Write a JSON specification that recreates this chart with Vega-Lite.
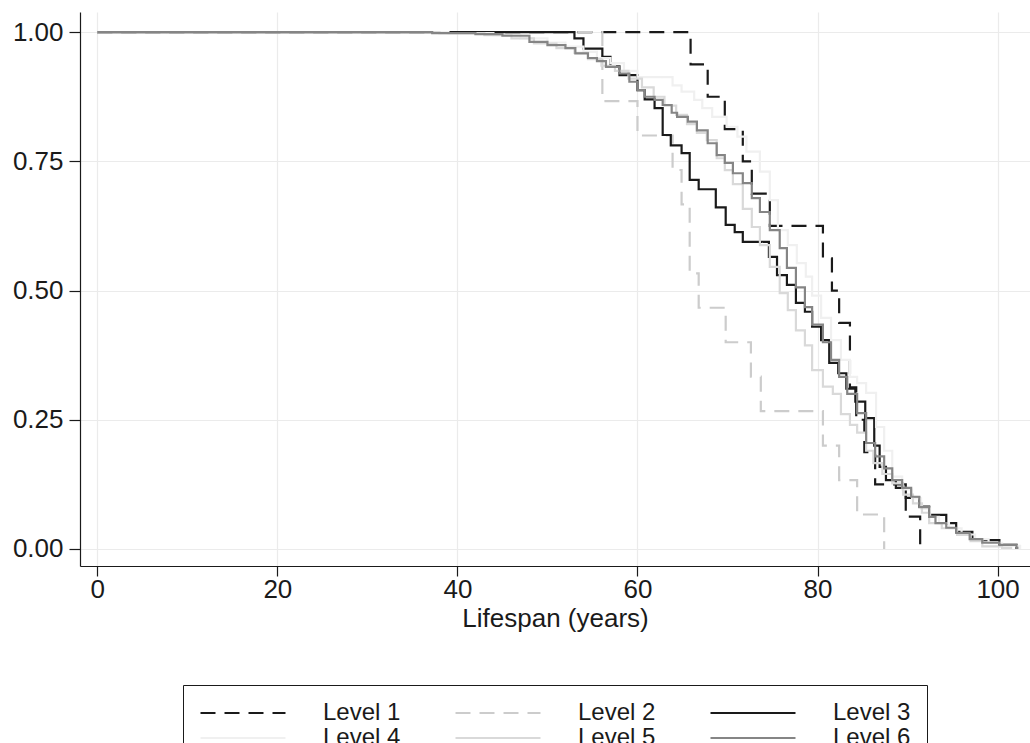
{
  "$schema": "https://vega.github.io/schema/vega-lite/v6.json",
  "autosize": "none",
  "padding": {"left": 80, "top": 12, "right": 0, "bottom": 177},
  "width": 950,
  "height": 554,
  "config": {
    "font": "Liberation Sans",
    "view": {"stroke": null},
    "axis": {
      "labelFontSize": 26, "labelColor": "#1a1a1a", "titleFontSize": 26, "titleFontWeight": "normal", "titleColor": "#1a1a1a",
      "domainColor": "#1a1a1a", "tickColor": "#1a1a1a", "gridColor": "#ebebeb", "gridWidth": 1.2, "domainWidth": 1.2, "tickWidth": 1.2
    }
  },
  "data": {"values": [
    {"level":"Level 1","t":0,"s":1},{"level":"Level 1","t":65.9,"s":0.9375},{"level":"Level 1","t":67.8,"s":0.875},{"level":"Level 1","t":69.7,"s":0.8125},{"level":"Level 1","t":71.7,"s":0.75},{"level":"Level 1","t":72.7,"s":0.6875},{"level":"Level 1","t":74.7,"s":0.625},{"level":"Level 1","t":80.6,"s":0.5625},{"level":"Level 1","t":81.6,"s":0.5},{"level":"Level 1","t":82.4,"s":0.4375},{"level":"Level 1","t":83.6,"s":0.3125},{"level":"Level 1","t":84.3,"s":0.25},{"level":"Level 1","t":85.2,"s":0.1875},{"level":"Level 1","t":86.4,"s":0.125},{"level":"Level 1","t":89.8,"s":0.0625},{"level":"Level 1","t":91.4,"s":0},
    {"level":"Level 2","t":0,"s":1},{"level":"Level 2","t":56.1,"s":0.8667},{"level":"Level 2","t":60.0,"s":0.8},{"level":"Level 2","t":63.9,"s":0.7333},{"level":"Level 2","t":64.9,"s":0.6667},{"level":"Level 2","t":65.8,"s":0.5333},{"level":"Level 2","t":66.8,"s":0.4667},{"level":"Level 2","t":69.8,"s":0.4},{"level":"Level 2","t":72.6,"s":0.3333},{"level":"Level 2","t":73.7,"s":0.2667},{"level":"Level 2","t":80.6,"s":0.2},{"level":"Level 2","t":82.4,"s":0.1333},{"level":"Level 2","t":84.4,"s":0.0667},{"level":"Level 2","t":87.4,"s":0},
    {"level":"Level 3","t":0,"s":1},{"level":"Level 3","t":53.0,"s":0.988},{"level":"Level 3","t":54.0,"s":0.968},{"level":"Level 3","t":56.1,"s":0.952},{"level":"Level 3","t":57.0,"s":0.934},{"level":"Level 3","t":58.0,"s":0.917},{"level":"Level 3","t":60.0,"s":0.888},{"level":"Level 3","t":60.8,"s":0.870},{"level":"Level 3","t":61.9,"s":0.853},{"level":"Level 3","t":62.8,"s":0.801},{"level":"Level 3","t":63.7,"s":0.781},{"level":"Level 3","t":64.9,"s":0.766},{"level":"Level 3","t":65.8,"s":0.714},{"level":"Level 3","t":66.8,"s":0.696},{"level":"Level 3","t":68.7,"s":0.661},{"level":"Level 3","t":69.8,"s":0.627},{"level":"Level 3","t":70.8,"s":0.613},{"level":"Level 3","t":71.7,"s":0.594},{"level":"Level 3","t":74.6,"s":0.565},{"level":"Level 3","t":75.5,"s":0.530},{"level":"Level 3","t":76.6,"s":0.511},{"level":"Level 3","t":77.6,"s":0.476},{"level":"Level 3","t":78.6,"s":0.459},{"level":"Level 3","t":79.4,"s":0.430},{"level":"Level 3","t":80.4,"s":0.404},{"level":"Level 3","t":81.3,"s":0.360},{"level":"Level 3","t":82.3,"s":0.340},{"level":"Level 3","t":83.2,"s":0.310},{"level":"Level 3","t":84.2,"s":0.285},{"level":"Level 3","t":85.3,"s":0.253},{"level":"Level 3","t":86.3,"s":0.200},{"level":"Level 3","t":86.9,"s":0.159},{"level":"Level 3","t":87.6,"s":0.133},{"level":"Level 3","t":88.7,"s":0.118},{"level":"Level 3","t":89.8,"s":0.099},{"level":"Level 3","t":91.3,"s":0.082},{"level":"Level 3","t":92.4,"s":0.066},{"level":"Level 3","t":94.3,"s":0.050},{"level":"Level 3","t":95.4,"s":0.033},{"level":"Level 3","t":97.2,"s":0.017},{"level":"Level 3","t":100.2,"s":0.008},{"level":"Level 3","t":102.1,"s":0},
    {"level":"Level 4","t":0,"s":1},{"level":"Level 4","t":39,"s":0.998},{"level":"Level 4","t":44,"s":0.994},{"level":"Level 4","t":47,"s":0.988},{"level":"Level 4","t":50,"s":0.980},{"level":"Level 4","t":52,"s":0.972},{"level":"Level 4","t":54,"s":0.962},{"level":"Level 4","t":55.5,"s":0.950},{"level":"Level 4","t":57,"s":0.940},{"level":"Level 4","t":58.5,"s":0.925},{"level":"Level 4","t":60,"s":0.913},{"level":"Level 4","t":63.9,"s":0.897},{"level":"Level 4","t":64.9,"s":0.885},{"level":"Level 4","t":66.3,"s":0.869},{"level":"Level 4","t":67.2,"s":0.853},{"level":"Level 4","t":68.3,"s":0.836},{"level":"Level 4","t":69.9,"s":0.817},{"level":"Level 4","t":71.1,"s":0.798},{"level":"Level 4","t":72.1,"s":0.769},{"level":"Level 4","t":73.6,"s":0.730},{"level":"Level 4","t":74.7,"s":0.675},{"level":"Level 4","t":75.6,"s":0.617},{"level":"Level 4","t":76.7,"s":0.588},{"level":"Level 4","t":77.7,"s":0.553},{"level":"Level 4","t":78.7,"s":0.527},{"level":"Level 4","t":79.4,"s":0.490},{"level":"Level 4","t":80.4,"s":0.447},{"level":"Level 4","t":81.5,"s":0.404},{"level":"Level 4","t":82.6,"s":0.366},{"level":"Level 4","t":83.6,"s":0.333},{"level":"Level 4","t":84.4,"s":0.321},{"level":"Level 4","t":85.4,"s":0.302},{"level":"Level 4","t":86.5,"s":0.236},{"level":"Level 4","t":87.4,"s":0.190},{"level":"Level 4","t":88.3,"s":0.140},{"level":"Level 4","t":89.4,"s":0.115},{"level":"Level 4","t":90.5,"s":0.098},{"level":"Level 4","t":91.5,"s":0.078},{"level":"Level 4","t":92.5,"s":0.062},{"level":"Level 4","t":93.5,"s":0.050},{"level":"Level 4","t":94.6,"s":0.040},{"level":"Level 4","t":96.0,"s":0.028},{"level":"Level 4","t":97.5,"s":0.019},{"level":"Level 4","t":99.0,"s":0.012},{"level":"Level 4","t":100.5,"s":0.006},{"level":"Level 4","t":102.5,"s":0},
    {"level":"Level 5","t":0,"s":1},{"level":"Level 5","t":38,"s":0.998},{"level":"Level 5","t":43,"s":0.994},{"level":"Level 5","t":46,"s":0.988},{"level":"Level 5","t":48.5,"s":0.978},{"level":"Level 5","t":51,"s":0.969},{"level":"Level 5","t":53,"s":0.960},{"level":"Level 5","t":54.5,"s":0.948},{"level":"Level 5","t":56,"s":0.935},{"level":"Level 5","t":57.5,"s":0.925},{"level":"Level 5","t":59,"s":0.910},{"level":"Level 5","t":60.5,"s":0.893},{"level":"Level 5","t":61.8,"s":0.875},{"level":"Level 5","t":63,"s":0.858},{"level":"Level 5","t":64.3,"s":0.840},{"level":"Level 5","t":65.5,"s":0.822},{"level":"Level 5","t":66.6,"s":0.805},{"level":"Level 5","t":67.7,"s":0.791},{"level":"Level 5","t":68.8,"s":0.756},{"level":"Level 5","t":69.7,"s":0.733},{"level":"Level 5","t":70.6,"s":0.706},{"level":"Level 5","t":71.7,"s":0.658},{"level":"Level 5","t":72.7,"s":0.623},{"level":"Level 5","t":73.6,"s":0.588},{"level":"Level 5","t":74.7,"s":0.546},{"level":"Level 5","t":75.8,"s":0.495},{"level":"Level 5","t":76.7,"s":0.462},{"level":"Level 5","t":77.6,"s":0.423},{"level":"Level 5","t":78.6,"s":0.394},{"level":"Level 5","t":79.4,"s":0.346},{"level":"Level 5","t":80.6,"s":0.314},{"level":"Level 5","t":81.7,"s":0.300},{"level":"Level 5","t":82.6,"s":0.261},{"level":"Level 5","t":83.6,"s":0.240},{"level":"Level 5","t":84.4,"s":0.225},{"level":"Level 5","t":85.4,"s":0.190},{"level":"Level 5","t":86.2,"s":0.166},{"level":"Level 5","t":87.2,"s":0.145},{"level":"Level 5","t":88.3,"s":0.127},{"level":"Level 5","t":89.5,"s":0.105},{"level":"Level 5","t":90.6,"s":0.088},{"level":"Level 5","t":91.6,"s":0.070},{"level":"Level 5","t":92.4,"s":0.050},{"level":"Level 5","t":93.8,"s":0.040},{"level":"Level 5","t":95.5,"s":0.027},{"level":"Level 5","t":97.0,"s":0.015},{"level":"Level 5","t":98.3,"s":0.005},{"level":"Level 5","t":100.5,"s":0.002},{"level":"Level 5","t":101.5,"s":0},
    {"level":"Level 6","t":0,"s":1},{"level":"Level 6","t":37.2,"s":0.998},{"level":"Level 6","t":42,"s":0.996},{"level":"Level 6","t":45,"s":0.993},{"level":"Level 6","t":48,"s":0.981},{"level":"Level 6","t":50,"s":0.975},{"level":"Level 6","t":52,"s":0.969},{"level":"Level 6","t":53.1,"s":0.959},{"level":"Level 6","t":54.5,"s":0.950},{"level":"Level 6","t":55.5,"s":0.944},{"level":"Level 6","t":56.5,"s":0.933},{"level":"Level 6","t":58,"s":0.920},{"level":"Level 6","t":59.1,"s":0.904},{"level":"Level 6","t":60,"s":0.888},{"level":"Level 6","t":60.8,"s":0.875},{"level":"Level 6","t":61.9,"s":0.869},{"level":"Level 6","t":62.8,"s":0.859},{"level":"Level 6","t":63.8,"s":0.844},{"level":"Level 6","t":64.4,"s":0.836},{"level":"Level 6","t":65.6,"s":0.827},{"level":"Level 6","t":66.6,"s":0.810},{"level":"Level 6","t":67.8,"s":0.785},{"level":"Level 6","t":68.8,"s":0.762},{"level":"Level 6","t":69.7,"s":0.747},{"level":"Level 6","t":70.6,"s":0.727},{"level":"Level 6","t":71.7,"s":0.708},{"level":"Level 6","t":72.7,"s":0.679},{"level":"Level 6","t":73.6,"s":0.652},{"level":"Level 6","t":74.7,"s":0.617},{"level":"Level 6","t":75.8,"s":0.582},{"level":"Level 6","t":76.6,"s":0.544},{"level":"Level 6","t":77.6,"s":0.506},{"level":"Level 6","t":78.6,"s":0.468},{"level":"Level 6","t":79.4,"s":0.434},{"level":"Level 6","t":80.6,"s":0.400},{"level":"Level 6","t":81.5,"s":0.366},{"level":"Level 6","t":82.4,"s":0.333},{"level":"Level 6","t":83.3,"s":0.300},{"level":"Level 6","t":84.4,"s":0.263},{"level":"Level 6","t":85.4,"s":0.205},{"level":"Level 6","t":86.4,"s":0.179},{"level":"Level 6","t":87.4,"s":0.156},{"level":"Level 6","t":88.3,"s":0.133},{"level":"Level 6","t":89.4,"s":0.118},{"level":"Level 6","t":90.4,"s":0.101},{"level":"Level 6","t":91.3,"s":0.081},{"level":"Level 6","t":92.4,"s":0.062},{"level":"Level 6","t":93.1,"s":0.050},{"level":"Level 6","t":94.3,"s":0.041},{"level":"Level 6","t":95.4,"s":0.031},{"level":"Level 6","t":96.9,"s":0.019},{"level":"Level 6","t":98.3,"s":0.012},{"level":"Level 6","t":100.2,"s":0.008},{"level":"Level 6","t":102.1,"s":0.002},{"level":"Level 6","t":102.2,"s":0}
  ]},
  "mark": {"type": "line", "interpolate": "step-after", "strokeWidth": 2.2},
  "encoding": {
    "x": {"field": "t", "type": "quantitative", "scale": {"domain": [-1.92, 103.6], "nice": false, "zero": false},
      "axis": {"values": [0, 20, 40, 60, 80, 100], "title": "Lifespan (years)", "tickSize": 10, "labelPadding": 0, "titlePadding": 3}},
    "y": {"field": "s", "type": "quantitative", "scale": {"domain": [-0.033, 1.039], "nice": false, "zero": false},
      "axis": {"values": [0, 0.25, 0.5, 0.75, 1], "format": ".2f", "title": null, "tickSize": 11, "labelPadding": 6}},
    "color": {"field": "level", "type": "nominal",
      "scale": {"domain": ["Level 1","Level 2","Level 3","Level 4","Level 5","Level 6"], "range": ["#1a1a1a","#cccccc","#1a1a1a","#f0f0f0","#d9d9d9","#858585"]},
      "legend": {"title": null, "orient": "none", "legendX": 103, "legendY": 673, "direction": "horizontal", "columns": 3, "symbolType": "stroke", "symbolSize": 7225, "symbolStrokeWidth": 2.2, "clipHeight": 24, "labelFontSize": 24, "labelColor": "#1a1a1a", "labelOffset": 36, "columnPadding": 53, "rowPadding": 1, "padding": 16, "strokeColor": "#1a1a1a"}},
    "strokeDash": {"field": "level", "type": "nominal",
      "scale": {"domain": ["Level 1","Level 2","Level 3","Level 4","Level 5","Level 6"], "range": [[15,9],[15,9],[1,0],[1,0],[1,0],[1,0]]},
      "legend": {"title": null}}
  }
}
